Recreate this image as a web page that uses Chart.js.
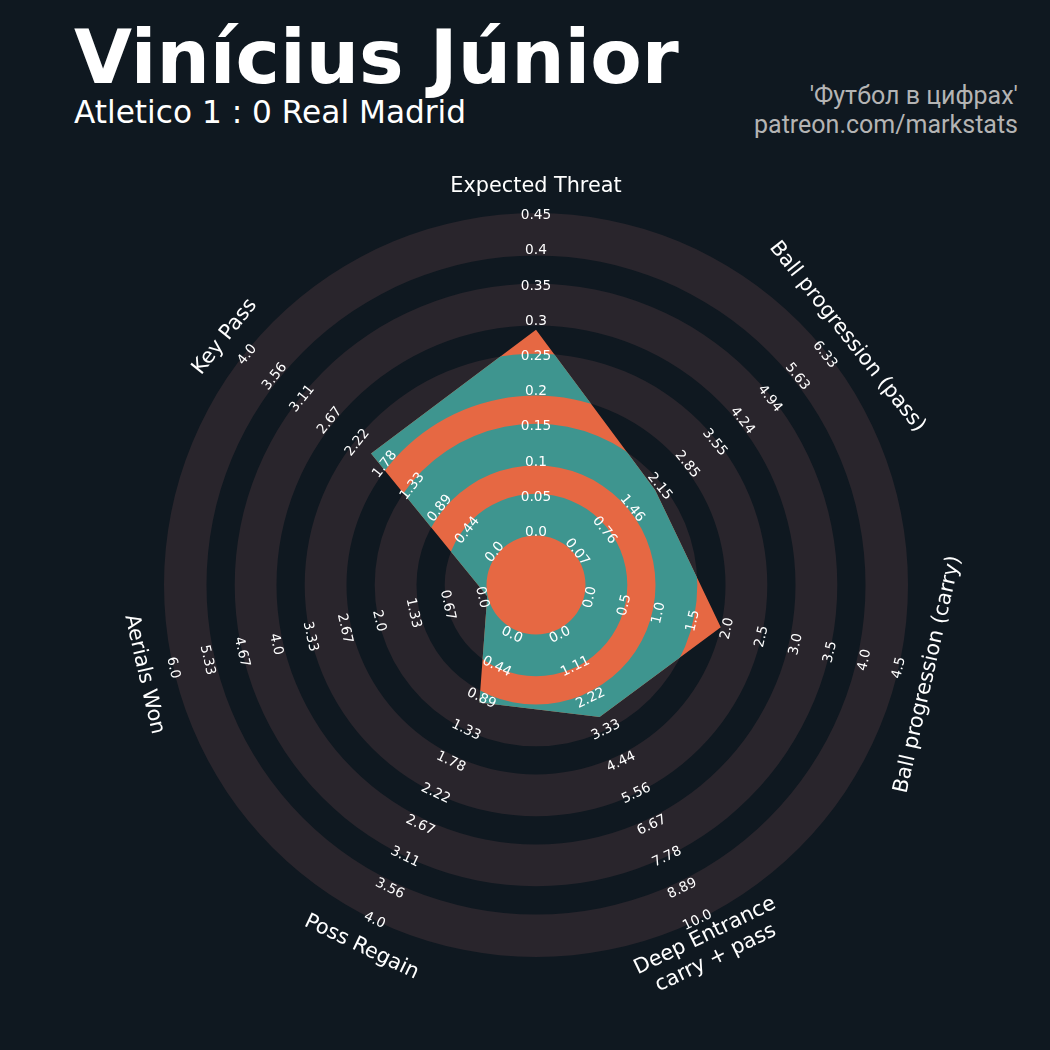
<!DOCTYPE html>
<html>
<head>
<meta charset="utf-8">
<script src="https://cdn.jsdelivr.net/npm/chart.js@4.4.0/dist/chart.umd.min.js"></script>
<style>
    html, body { margin: 0; padding: 0; background: #0f1820; }
    #wrap { position: relative; width: 1050px; height: 1050px; overflow: hidden; background: #0f1820; }
    #radar { position: absolute; left: 0; top: 0; }
    .title { position: absolute; left: 74px; top: 20px; font: bold 75px 'DejaVu Sans'; line-height: 1; color: #ffffff; white-space: nowrap; }
    .subtitle { position: absolute; left: 74px; top: 97px; font: 31.2px 'DejaVu Sans'; line-height: 1; color: #ffffff; white-space: nowrap; }
    .credit { position: absolute; right: 32px; top: 82px; font: 25px Roboto; line-height: 28.5px; color: #b4b4b4; text-align: right; white-space: nowrap; }
</style>
</head>
<body>
<div id="wrap">
    <div class="title">Vinícius Júnior</div>
    <div class="subtitle">Atletico 1 : 0 Real Madrid</div>
    <div class="credit">'Футбол в цифрах'<br>patreon.com/markstats</div>
    <canvas id="radar" width="1050" height="1050"></canvas>
</div>
<script>
// radar parameters (clockwise from the top)
const params = ['Expected Threat', 'Ball progression (pass)', 'Ball progression (carry)',
    ['Deep Entrance', 'carry + pass'], 'Poss Regain', 'Aerials Won', 'Key Pass'];
const minRange = [0, 0.07, 0, 0, 0, 0, 0];
const maxRange = [0.45, 6.33, 4.5, 10, 4, 6, 4];
const values = [0.287, 2.06, 1.95, 3, 1, 0, 2];

// tick labels along each spoke
const xtTicks = ['0.0', '0.05', '0.1', '0.15', '0.2', '0.25', '0.3', '0.35', '0.4', '0.45'];
const passTicks = ['0.07', '0.76', '1.46', '2.15', '2.85', '3.55', '4.24', '4.94', '5.63', '6.33'];
const carryTicks = ['0.0', '0.5', '1.0', '1.5', '2.0', '2.5', '3.0', '3.5', '4.0', '4.5'];
const deepTicks = ['0.0', '1.11', '2.22', '3.33', '4.44', '5.56', '6.67', '7.78', '8.89', '10.0'];
const regainTicks = ['0.0', '0.44', '0.89', '1.33', '1.78', '2.22', '2.67', '3.11', '3.56', '4.0'];
const aerialTicks = ['0.0', '0.67', '1.33', '2.0', '2.67', '3.33', '4.0', '4.67', '5.33', '6.0'];
const keyPassTicks = ['0.0', '0.44', '0.89', '1.33', '1.78', '2.22', '2.67', '3.11', '3.56', '4.0'];
const tickLabels = [xtTicks, passTicks, carryTicks, deepTicks, regainTicks, aerialTicks, keyPassTicks];

const RING = '#29252c';
const ORANGE = '#e66843';
const TEAL = '#3e958f';

// ring bands in px for a 372px radius
const ringBands = [[49.5, 91.3], [119.5, 161.3], [189.5, 231.3], [259.5, 301.3], [329.5, 372]];
const centerRadius = 50;   // radius where each range starts

const normalised = values.map((v, i) => (v - minRange[i]) / (maxRange[i] - minRange[i]));

const annulus = (ctx, cx, cy, r1, r2) => {
    ctx.beginPath();
    ctx.arc(cx, cy, r2, 0, Math.PI * 2);
    ctx.arc(cx, cy, r1, 0, Math.PI * 2, true);
    ctx.fill();
};

const ringsPlugin = {
    id: 'rings',
    beforeDatasetsDraw(chart) {
        const { ctx } = chart;
        const scale = chart.scales.r;
        const unit = scale.drawingArea / 372;
        ctx.save();
        ctx.fillStyle = RING;
        ringBands.forEach(([a, b]) => annulus(ctx, scale.xCenter, scale.yCenter, a * unit, b * unit));
        ctx.fillStyle = ORANGE;
        ctx.beginPath();
        ctx.arc(scale.xCenter, scale.yCenter, scale.getDistanceFromCenterForValue(0), 0, Math.PI * 2);
        ctx.fill();
        ctx.restore();
    },
    afterDatasetsDraw(chart) {
        // polygon takes the teal colour where it crosses a ring
        const { ctx } = chart;
        const scale = chart.scales.r;
        const unit = scale.drawingArea / 372;
        const pts = chart.getDatasetMeta(0).data;
        ctx.save();
        ctx.beginPath();
        pts.forEach((p, i) => i ? ctx.lineTo(p.x, p.y) : ctx.moveTo(p.x, p.y));
        ctx.closePath();
        ctx.clip();
        ctx.fillStyle = TEAL;
        ringBands.forEach(([a, b]) => annulus(ctx, scale.xCenter, scale.yCenter, a * unit, b * unit));
        ctx.restore();
    }
};

const labelsPlugin = {
    id: 'spokeLabels',
    afterDraw(chart) {
        const { ctx } = chart;
        const scale = chart.scales.r;
        const unit = scale.drawingArea / 372;
        const start = scale.getDistanceFromCenterForValue(0) + 4 * unit;
        const step = 35.2 * unit;
        ctx.save();
        ctx.fillStyle = '#ffffff';
        ctx.textAlign = 'center';
        ctx.textBaseline = 'middle';
        params.forEach((label, i) => {
            const ang = scale.getIndexAngle(i);
            const rot = (ang > Math.PI / 2 && ang < Math.PI * 1.5) ? ang - Math.PI : ang;

            ctx.font = '13.7px "DejaVu Sans"';
            tickLabels[i].forEach((txt, k) => {
                const p = scale.getPointPosition(i, start + k * step);
                ctx.save();
                ctx.translate(p.x, p.y);
                ctx.rotate(rot);
                ctx.fillText(txt, 0, 1.5);
                ctx.restore();
            });

            ctx.font = '20.8px "DejaVu Sans"';
            const lines = Array.isArray(label) ? label : [label];
            const p = scale.getPointPosition(i, scale.drawingArea + 28 * unit);
            ctx.save();
            ctx.translate(p.x, p.y);
            ctx.rotate(rot);
            lines.forEach((line, j) => {
                ctx.fillText(line, 0, (j - (lines.length - 1) / 2) * 24.5 + 2);
            });
            ctx.restore();
        });
        ctx.restore();
    }
};

const ctx = document.getElementById('radar').getContext('2d');
new Chart(ctx, {
    type: 'radar',
    data: {
        labels: params,
        datasets: [{
            data: normalised,
            backgroundColor: ORANGE,
            borderColor: 'rgba(0,0,0,0)',
            borderWidth: 0,
            pointRadius: 0,
            pointHoverRadius: 0,
            fill: 'start'
        }]
    },
    options: {
        responsive: false,
        animation: false,
        layout: { padding: { left: 164, top: 213, right: 142, bottom: 93 } },
        plugins: {
            legend: { display: false },
            tooltip: { enabled: false }
        },
        scales: {
            r: {
                min: -centerRadius / (372 - centerRadius),
                max: 1,
                ticks: { display: false },
                grid: { display: false },
                angleLines: { display: false },
                pointLabels: { display: false }
            }
        }
    },
    plugins: [ringsPlugin, labelsPlugin]
});
</script>
</body>
</html>
